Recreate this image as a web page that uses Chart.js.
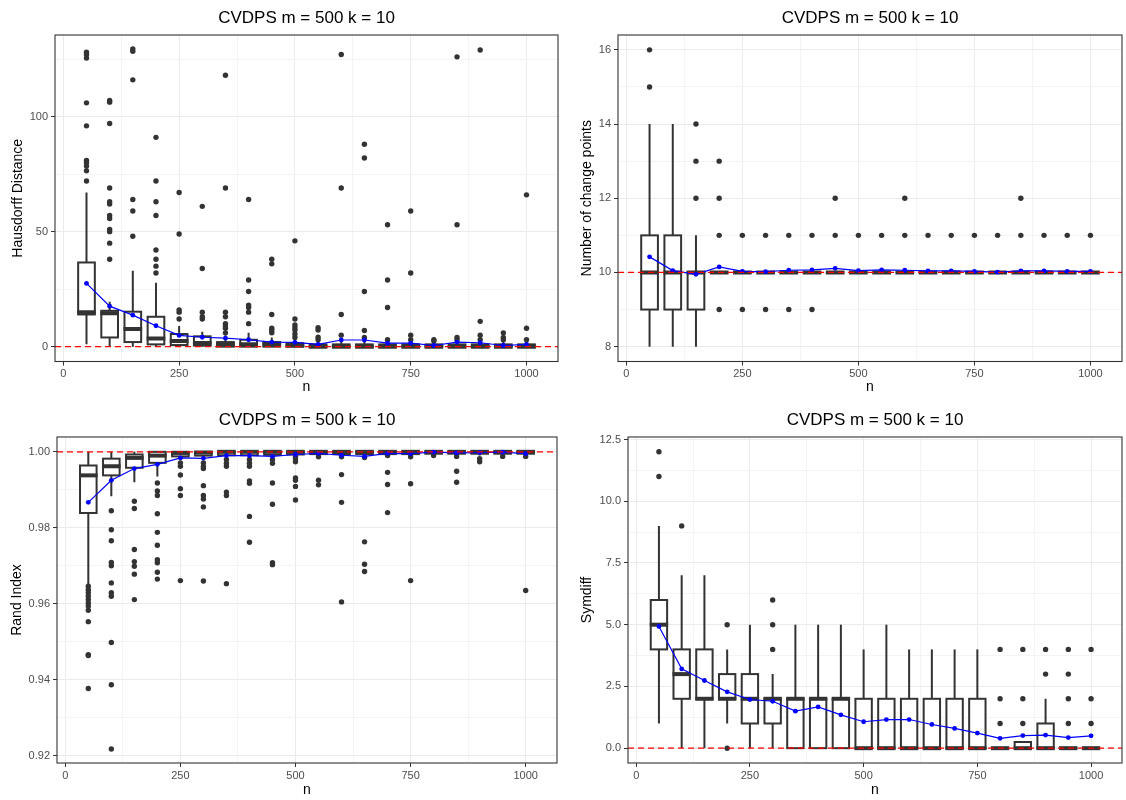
<!DOCTYPE html>
<html><head><meta charset="utf-8">
<script src="https://cdn.jsdelivr.net/npm/chart.js@4.4.1/dist/chart.umd.min.js"></script>
<style>
html,body{margin:0;padding:0;background:#fff;}
#wrap{position:relative;width:1126px;height:800px;overflow:hidden;}
canvas{position:absolute;}
</style></head><body>
<div id="wrap">
<canvas id="c1" width="563" height="400" style="left:0;top:0"></canvas>
<canvas id="c2" width="563" height="400" style="left:563px;top:0"></canvas>
<canvas id="c3" width="563" height="400" style="left:0;top:400px"></canvas>
<canvas id="c4" width="563" height="400" style="left:563px;top:400px"></canvas>
</div>
<script>
// ---------------- data ----------------
const chartTitle = 'CVDPS m = 500 k = 10';
const nValues = [50,100,150,200,250,300,350,400,450,500,550,600,650,700,750,800,850,900,950,1000];
const xMajorTicks = [0,250,500,750,1000];
const xMinorTicks = [125,375,625,875];

// Hausdorff Distance
const hausLow  = [1,0,0,0,0,0,0,0,0,0,0,0,0,0,0,0,0,0,0,0];
const hausQ1   = [14,4,2,1,0.7,0.5,0,0,0,0,0,0,0,0,0,0,0,0,0,0];
const hausMed  = [15,14.5,7.7,3.6,2.5,1.6,1,1,1,0.5,0,0,0,0,0,0,0,0,0,0];
const hausQ3   = [36.6,15.6,15.2,13,5.5,4.5,2,3,2,1.5,1,1,1,1,1,1,1,1,1,1];
const hausHigh = [67,19.5,33,27.8,9,6.5,5,6,4,3,2,2,2,2,2,2,2,2,2,2];
const hausMean = [27.5,17.6,13.7,9.1,4.9,4.1,3.7,3.0,2.0,1.9,1.0,2.9,2.9,1.5,1.5,0.5,2.0,1.7,0.5,1.0];
const hausOut  = [
  [128,127,125.5,106,96,81,80,78.5,76.5,72],
  [107,106.3,97,69,63,62,57,55.7,51,50,45,38],
  [129.4,128.4,116,64,59,48],
  [91,72,63,57,42,38,35,32],
  [67,49,16,15,12],
  [61,34,15,13,12],
  [118,69,15,13,10,9,8,6],
  [64,29,24,18,17,15,10],
  [38,36,14,8,7,6],
  [46,12,9.4,8.2,7.2,5.5,4],
  [8.2,7.2,4.1,3],
  [127,69,14,5],
  [88,82,24,7,4],
  [53,29,17,3],
  [59,32,5,3],
  [3,2.5],
  [126,53,4,3],
  [129,11,5,3],
  [6,4,3],
  [66,8,3]
];
const hausMajorTicks = [0,50,100];
const hausMinorTicks = [25,75,125];

// Number of change points
const cpLow  = [8,8,8,10,10,10,10,10,10,10,10,10,10,10,10,10,10,10,10,10];
const cpQ1   = [9,9,9,10,10,10,10,10,10,10,10,10,10,10,10,10,10,10,10,10];
const cpMed  = [10,10,10,10,10,10,10,10,10,10,10,10,10,10,10,10,10,10,10,10];
const cpQ3   = [11,11,10,10,10,10,10,10,10,10,10,10,10,10,10,10,10,10,10,10];
const cpHigh = [14,14,11,10,10,10,10,10,10,10,10,10,10,10,10,10,10,10,10,10];
const cpMean = [10.42,10.05,9.95,10.15,10.03,10.02,10.06,10.07,10.11,10.05,10.07,10.06,10.04,10.04,10.03,10.01,10.04,10.04,10.03,10.03];
const cpOut  = [[16,15],[],[14,13,12],[13,12,11,9],[11,9],[11,9],[11,9],[11,9],[12,11],[11],[11],[12,11],[11],[11],[11],[11],[12,11],[11],[11],[11]];
const cpMajorTicks = [8,10,12,14,16];
const cpMinorTicks = [9,11,13,15];

// Rand Index
const randLow  = [0.9650,0.9883,0.9920,0.9935,0.9978,0.9986,0.9988,0.9988,0.9988,0.9988,0.9989,0.9989,0.9989,0.9989,0.9989,0.9990,0.9990,0.9990,0.9990,0.9990];
const randQ1   = [0.9839,0.9938,0.9958,0.9971,0.9988,0.9990,0.9991,0.9991,0.9992,0.9993,0.9994,0.9994,0.9994,0.9994,0.9994,0.9995,0.9995,0.9995,0.9995,0.9995];
const randMed  = [0.9938,0.9962,0.9984,0.9990,0.9997,0.9998,1,1,1,1,1,1,1,1,1,1,1,1,1,1];
const randQ3   = [0.9964,0.9982,0.9993,1,1,1,1,1,1,1,1,1,1,1,1,1,1,1,1,1];
const randHigh = [1,1,1,1,1,1,1,1,1,1,1,1,1,1,1,1,1,1,1,1];
const randMean = [0.9867,0.9925,0.9956,0.9967,0.9984,0.9983,0.9990,0.9990,0.9988,0.9993,0.9996,0.9991,0.9988,0.9996,0.9995,0.9999,0.9997,0.9998,0.9999,0.9995];
const randOut  = [
  [0.9646,0.9637,0.9629,0.9620,0.9611,0.9602,0.9594,0.9583,0.9553,0.9466,0.9464,0.9377],
  [0.9845,0.9795,0.9766,0.9709,0.9700,0.9655,0.9629,0.9620,0.9498,0.9387,0.9218],
  [0.9870,0.9851,0.9743,0.9711,0.9699,0.9678,0.9611],
  [0.9918,0.9897,0.9885,0.9837,0.9788,0.9754,0.9716,0.9708,0.9683,0.9665],
  [0.9971,0.9962,0.9939,0.9903,0.9885,0.9661],
  [0.9971,0.9962,0.9956,0.9911,0.9885,0.9876,0.9855,0.9660],
  [0.9980,0.9970,0.9962,0.9894,0.9885,0.9653],
  [0.9980,0.9970,0.9962,0.9923,0.9917,0.9830,0.9762],
  [0.9980,0.9970,0.9918,0.9862,0.9708,0.9703],
  [0.9988,0.9982,0.9974,0.9931,0.9925,0.9909,0.9873],
  [0.9987,0.9925,0.9913],
  [0.9987,0.9940,0.9867,0.9605],
  [0.9985,0.9763,0.9704,0.9685],
  [0.9990,0.9946,0.9914,0.9840],
  [0.9987,0.9916,0.9661],
  [0.9990],
  [0.9988,0.9949,0.9920],
  [0.9982,0.9974],
  [0.9988],
  [0.9988,0.9635]
];
const randMajorTicks = [0.92,0.94,0.96,0.98,1.00];
const randMinorTicks = [0.93,0.95,0.97,0.99];

// Symdiff
const symLow  = [1,0,0,1,0,0,0,0,0,0,0,0,0,0,0,0,0,0,0,0];
const symQ1   = [4,2,2,2,1,1,0,0,0,0,0,0,0,0,0,0,0,0,0,0];
const symMed  = [5,3,2,2,2,2,2,2,2,0,0,0,0,0,0,0,0,0,0,0];
const symQ3   = [6,4,4,3,3,2,2,2,2,2,2,2,2,2,2,0,0.25,1,0,0];
const symHigh = [9,7,7,4,5,3,5,5,5,4,5,4,4,4,4,0,0.25,2,0,0];
const symMean = [4.93,3.21,2.74,2.28,1.97,1.90,1.50,1.67,1.35,1.07,1.16,1.16,0.96,0.80,0.61,0.40,0.51,0.53,0.43,0.50];
const symOut  = [[12,11],[9],[],[5,0],[],[6,5,4],[],[],[],[],[],[],[],[],[],[4,2,1],[4,2,1],[4,3],[4,3,2,1],[4,2,1]];
const symMajorTicks = [0,2.5,5,7.5,10,12.5];
const symMinorTicks = [1.25,3.75,6.25,8.75,11.25];

// ---------------- rendering ----------------
const FONT = "'Liberation Sans', Arial, Helvetica, sans-serif";
Chart.defaults.font.family = FONT;
const X_MIN = -18, X_MAX = 1068, BOX_HALF = 18;

const boxPlugin = {
  id: 'boxes',
  beforeDatasetsDraw(chart) {
    const b = chart.options.plugins.boxes;
    if (!b || !b.n) return;
    const {ctx, chartArea: a} = chart;
    const xs = chart.scales.x, ys = chart.scales.y;
    ctx.save();
    ctx.beginPath(); ctx.rect(a.left, a.top, a.right - a.left, a.bottom - a.top); ctx.clip();
    ctx.strokeStyle = '#333333';
    for (let i = 0; i < b.n.length; i++) {
      const cx = xs.getPixelForValue(b.n[i]);
      const x0 = xs.getPixelForValue(b.n[i] - BOX_HALF), x1 = xs.getPixelForValue(b.n[i] + BOX_HALF);
      const yLo = ys.getPixelForValue(b.low[i]), yQ1 = ys.getPixelForValue(b.q1[i]);
      const yMd = ys.getPixelForValue(b.med[i]), yQ3 = ys.getPixelForValue(b.q3[i]);
      const yHi = ys.getPixelForValue(b.high[i]);
      ctx.lineWidth = 2;
      ctx.beginPath();
      ctx.moveTo(cx, yQ3); ctx.lineTo(cx, yHi);
      ctx.moveTo(cx, yQ1); ctx.lineTo(cx, yLo);
      ctx.stroke();
      ctx.fillStyle = '#FFFFFF';
      ctx.fillRect(x0, yQ3, x1 - x0, yQ1 - yQ3);
      ctx.strokeRect(x0, yQ3, x1 - x0, yQ1 - yQ3);
      ctx.lineWidth = 4;
      ctx.beginPath(); ctx.moveTo(x0 - 1, yMd); ctx.lineTo(x1 + 1, yMd); ctx.stroke();
    }
    ctx.restore();
  },
  afterDraw(chart) {
    const {ctx, chartArea: a} = chart;
    ctx.save();
    ctx.strokeStyle = '#333333';
    ctx.lineWidth = 1.1;
    ctx.strokeRect(a.left, a.top, a.right - a.left, a.bottom - a.top);
    ctx.restore();
  }
};

function near(v, arr) { return arr.some(t => Math.abs(t - v) < 1e-9); }

function makePanel(id, d, L) {
  const xTicks = xMajorTicks.concat(xMinorTicks).sort((a,b)=>a-b);
  const yTicks = d.yMajor.concat(d.yMinor).sort((a,b)=>a-b);
  const outliers = [];
  d.n.forEach((x, i) => d.out[i].forEach(y => outliers.push({x, y})));
  const means = d.n.map((x, i) => ({x, y: d.mean[i]}));
  const ref = [{x: X_MIN, y: d.ref}, {x: X_MAX, y: d.ref}];
  const gridColor = (maj) => c => (c.tick && near(c.tick.value, maj)) ? '#EBEBEB' : '#F4F4F4';
  const tickColor = (maj) => c => (c.tick && near(c.tick.value, maj)) ? '#333333' : 'rgba(0,0,0,0)';
  return new Chart(document.getElementById(id), {
    type: 'scatter',
    data: { datasets: [
      { data: outliers, pointRadius: 2.7, pointBackgroundColor: '#333333', pointBorderWidth: 0, showLine: false, order: 3 },
      { data: means, showLine: true, borderColor: '#0000FF', borderWidth: 1.2, pointRadius: 2.4,
        pointBackgroundColor: '#0000FF', pointBorderWidth: 0, order: 2 },
      { data: ref, showLine: true, borderColor: '#FF0000', borderWidth: 1.3, borderDash: [6, 4], pointRadius: 0, order: 1 }
    ]},
    options: {
      responsive: false, animation: false, events: [],
      layout: { padding: { left: 0, right: L.padRight, top: 0, bottom: 0 } },
      plugins: {
        legend: { display: false }, tooltip: { enabled: false },
        title: { display: true, text: chartTitle, color: '#000000', fullSize: false,
          font: { size: 17, weight: 'normal', lineHeight: 1.2 },
          padding: { top: L.titleTop, bottom: L.titleBottom } },
        boxes: { n: d.n, low: d.low, q1: d.q1, med: d.med, q3: d.q3, high: d.high }
      },
      scales: {
        x: {
          type: 'linear', min: X_MIN, max: X_MAX,
          afterBuildTicks: s => { s.ticks = xTicks.map(v => ({value: v})); },
          afterFit: s => { s.height = L.xHeight; s.paddingLeft = 0; s.paddingRight = 0; },
          ticks: { autoSkip: false, maxRotation: 0, color: '#4D4D4D', font: { size: 11 }, padding: 2,
            callback: v => near(v, xMajorTicks) ? String(v) : '' },
          grid: { color: gridColor(xMajorTicks), lineWidth: 1, drawTicks: true, tickLength: 4,
            tickColor: tickColor(xMajorTicks), tickWidth: 1 },
          border: { display: false },
          title: { display: true, text: 'n', color: '#000000', font: { size: 14, lineHeight: 1.2 },
            padding: { top: 0, bottom: L.xTitlePad } }
        },
        y: {
          type: 'linear', min: d.yMin, max: d.yMax,
          afterBuildTicks: s => { s.ticks = yTicks.map(v => ({value: v})); },
          afterFit: s => { s.width = L.yWidth; s.paddingTop = 0; s.paddingBottom = 0; },
          ticks: { autoSkip: false, color: '#4D4D4D', font: { size: 11 }, padding: 3,
            callback: v => near(v, d.yMajor) ? d.fmt(v) : '' },
          grid: { color: gridColor(d.yMajor), lineWidth: 1, drawTicks: true, tickLength: 4,
            tickColor: tickColor(d.yMajor), tickWidth: 1 },
          border: { display: false },
          title: { display: true, text: d.yTitle, color: '#000000', font: { size: 14, lineHeight: 1.2 },
            padding: { top: L.yTitlePad, bottom: 0 } }
        }
      }
    },
    plugins: [boxPlugin]
  });
}

makePanel('c1', { n: nValues, low: hausLow, q1: hausQ1, med: hausMed, q3: hausQ3, high: hausHigh,
  mean: hausMean, out: hausOut, ref: 0, yMin: -6.45, yMax: 135.5, yMajor: hausMajorTicks, yMinor: hausMinorTicks,
  fmt: v => String(v), yTitle: 'Hausdorff Distance' },
  { padRight: 5, yWidth: 55, xHeight: 38.5, titleTop: 7.8, titleBottom: 6.8, xTitlePad: 4.5, yTitlePad: 9.6 });

makePanel('c2', { n: nValues, low: cpLow, q1: cpQ1, med: cpMed, q3: cpQ3, high: cpHigh,
  mean: cpMean, out: cpOut, ref: 10, yMin: 7.6, yMax: 16.4, yMajor: cpMajorTicks, yMinor: cpMinorTicks,
  fmt: v => String(v), yTitle: 'Number of change points' },
  { padRight: 0, yWidth: 55, xHeight: 38.5, titleTop: 7.8, titleBottom: 6.8, xTitlePad: 4.5, yTitlePad: 16.1 });

makePanel('c3', { n: nValues, low: randLow, q1: randQ1, med: randMed, q3: randQ3, high: randHigh,
  mean: randMean, out: randOut, ref: 1, yMin: 0.9181, yMax: 1.0039, yMajor: randMajorTicks, yMinor: randMinorTicks,
  fmt: v => v.toFixed(2), yTitle: 'Rand Index' },
  { padRight: 6, yWidth: 57, xHeight: 37, titleTop: 9.8, titleBottom: 6.8, xTitlePad: 1, yTitlePad: 8.6 });

makePanel('c4', { n: nValues, low: symLow, q1: symQ1, med: symMed, q3: symQ3, high: symHigh,
  mean: symMean, out: symOut, ref: 0, yMin: -0.6, yMax: 12.6, yMajor: symMajorTicks, yMinor: symMinorTicks,
  fmt: v => v.toFixed(1), yTitle: 'Symdiff' },
  { padRight: 0, yWidth: 65, xHeight: 37, titleTop: 9.8, titleBottom: 6.8, xTitlePad: 1, yTitlePad: 15.3 });
</script>
</body></html>
